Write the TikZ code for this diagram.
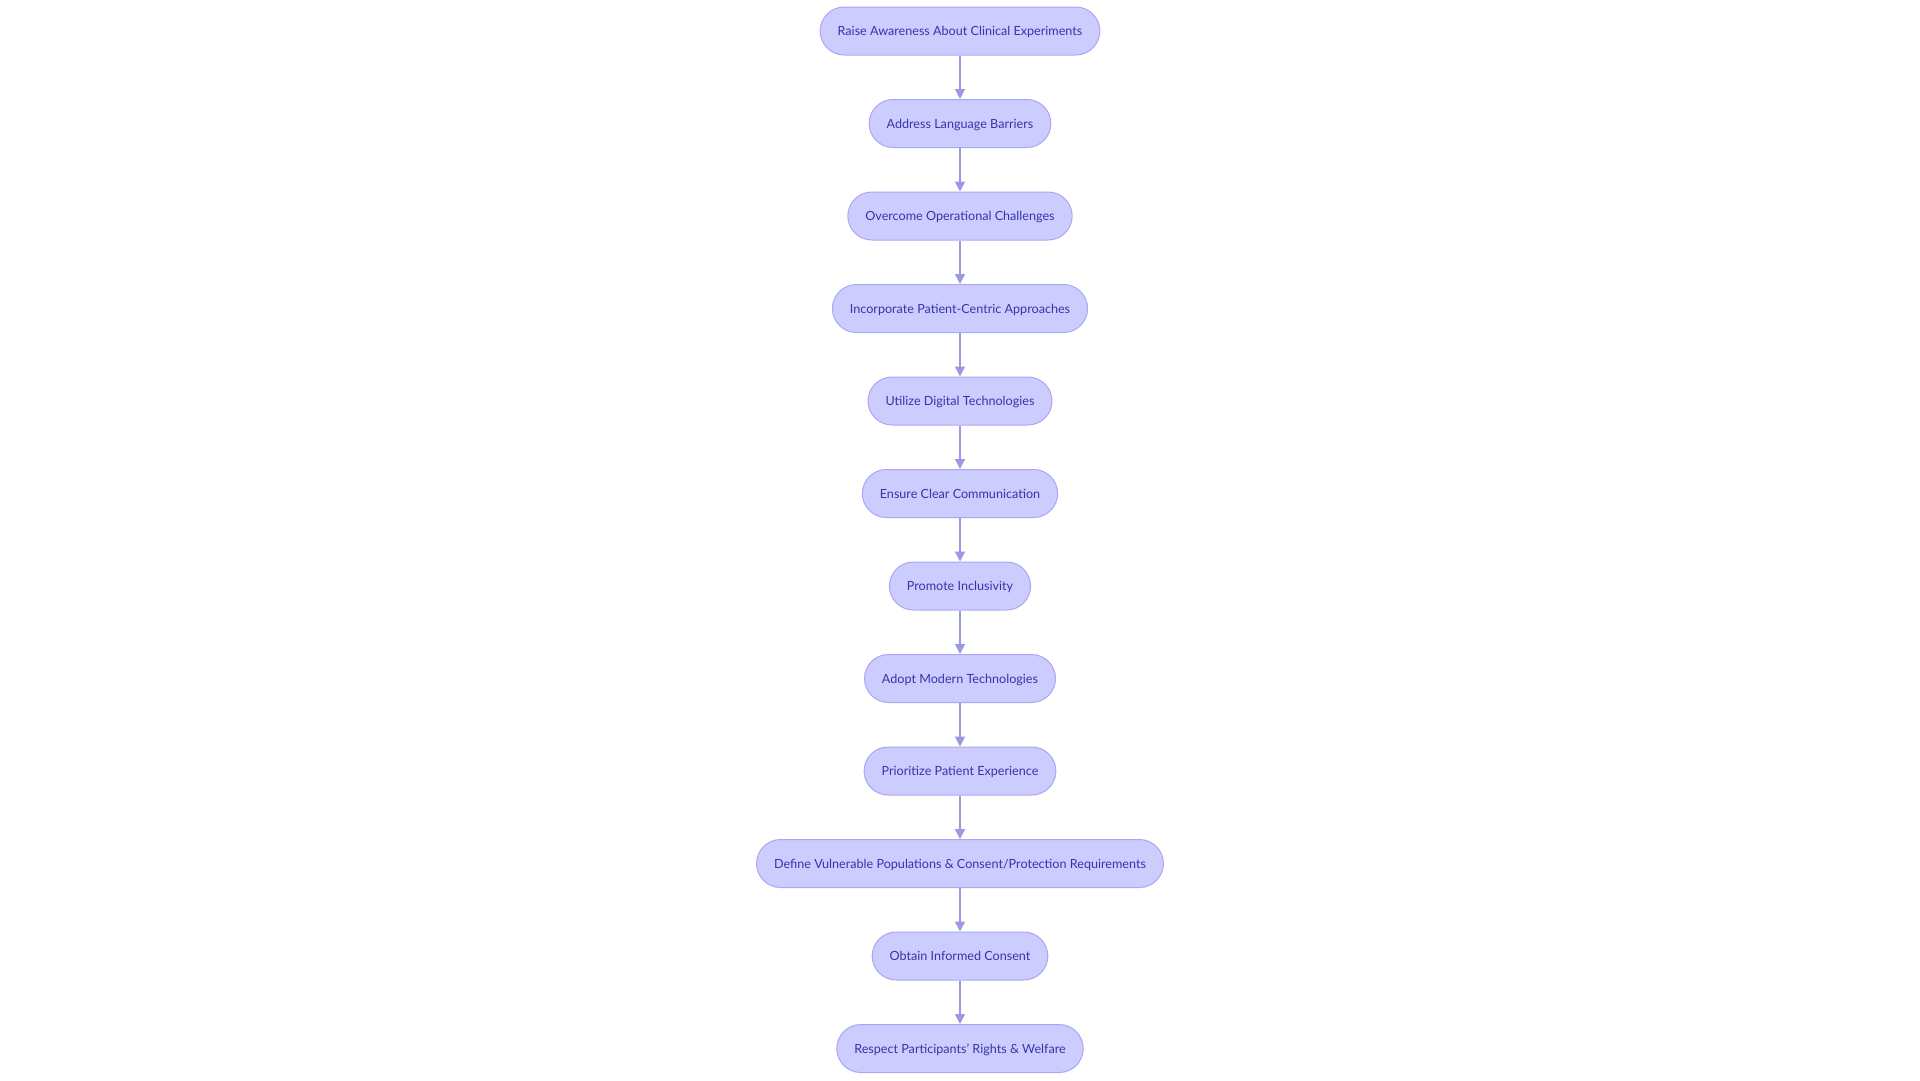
\documentclass[tikz,border=0pt]{standalone}
\usepackage{fontspec}
\setmainfont{Lato}
\usepackage{xcolor}
\usetikzlibrary{arrows.meta}

\definecolor{stepfill}{HTML}{CCCCFF}
\definecolor{stepline}{HTML}{A8A8F0}
\definecolor{steptext}{HTML}{3535A8}
\definecolor{arrowline}{HTML}{9A9AE2}

\tikzset{
	stepbox/.style={draw=stepline, fill=stepfill, line width=1pt, rounded corners=24pt,
		minimum height=48pt, inner xsep=17.5pt, text=steptext, font=\fontsize{12.6}{15}\selectfont,
		text height=10.5pt, text depth=1.5pt},
	flow/.style={draw=arrowline, line width=1.5pt, -{Triangle[width=10pt,length=10pt]}}
}

\begin{document}
\begin{tikzpicture}[x=1pt, y=-1pt]
\useasboundingbox (0,0) rectangle (1920,1080);

\node [stepbox] (v1) at (960,31) {Raise Awareness About Clinical Experiments};
\node [stepbox] (v2) at (960,123.5) {Address Language Barriers};
\node [stepbox] (v3) at (960,216) {Overcome Operational Challenges};
\node [stepbox] (v4) at (960,308.5) {Incorporate Patient-Centric Approaches};
\node [stepbox] (v5) at (960,401) {Utilize Digital Technologies};
\node [stepbox] (v6) at (960,493.5) {Ensure Clear Communication};
\node [stepbox] (v7) at (960,586) {Promote Inclusivity};
\node [stepbox] (v8) at (960,678.5) {Adopt Modern Technologies};
\node [stepbox] (v9) at (960,771) {Prioritize Patient Experience};
\node [stepbox] (v10) at (960,863.5) {Define Vulnerable Populations \& Consent/Protection Requirements};
\node [stepbox] (v11) at (960,956) {Obtain Informed Consent};
\node [stepbox] (v12) at (960,1048.5) {Respect Participants' Rights \& Welfare};

\draw [flow] (v1) -- (v2);
\draw [flow] (v2) -- (v3);
\draw [flow] (v3) -- (v4);
\draw [flow] (v4) -- (v5);
\draw [flow] (v5) -- (v6);
\draw [flow] (v6) -- (v7);
\draw [flow] (v7) -- (v8);
\draw [flow] (v8) -- (v9);
\draw [flow] (v9) -- (v10);
\draw [flow] (v10) -- (v11);
\draw [flow] (v11) -- (v12);
\end{tikzpicture}
\end{document}
